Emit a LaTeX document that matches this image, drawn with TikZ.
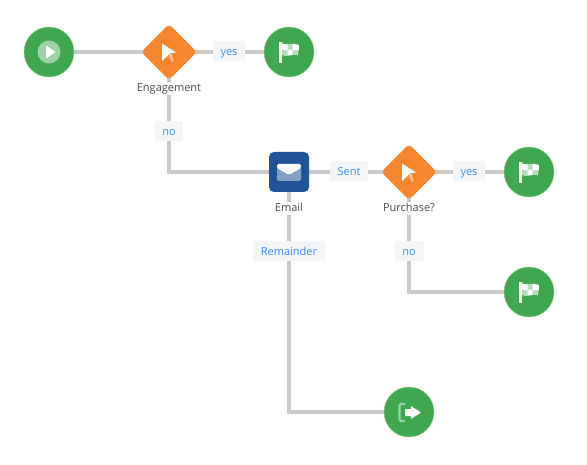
\documentclass[tikz,border=0pt]{standalone}
\usepackage{fontspec}
\setmainfont{Open Sans}
\usetikzlibrary{shapes.geometric}
\pgfdeclarelayer{bg}
\pgfsetlayers{bg,main}
\definecolor{gr}{HTML}{3FA84F}
\definecolor{grl}{HTML}{B5E0BB}
\definecolor{orn}{HTML}{F6852B}
\definecolor{blu}{HTML}{1F5296}
\definecolor{lnk}{HTML}{3B8BF0}
\definecolor{lab}{HTML}{F3F5F7}
\definecolor{edgegray}{HTML}{C9C9C9}
\tikzset{
 x=1pt,y=-1pt,
 circ/.style={circle,fill=gr,draw=gr!60!white,line width=.5pt,minimum size=50pt,inner sep=0pt},
 dia/.style={diamond,aspect=1,fill=orn,minimum width=56pt,minimum height=56pt,inner sep=0pt,rounded corners=4pt},
 mailbox/.style={rectangle,fill=blu,minimum size=40pt,inner sep=0pt,rounded corners=5pt},
 edgelabel/.style={fill=lab,text=lnk,font=\fontsize{11}{13}\selectfont,minimum height=20pt,inner sep=0pt,anchor=center,text height=9pt,text depth=0pt},
 captext/.style={fill=white,text=black!70,font=\fontsize{11}{13}\selectfont,inner sep=1pt,text height=8pt,text depth=2.5pt},
 conn/.style={draw=edgegray,line width=4pt},
 pics/flagicon/.style={code={
  \fill[grl] (-7,-8.5) .. controls (-3,-6) and (0,-10) .. (10,-7) -- (9,3.5) .. controls (2,1) and (-2,6) .. (-7,3) -- cycle;
  \fill[white] (-10,-9.5) rectangle (-7.2,11.5);
  \fill[white] (-7.2,-8.5) -- (-1.5,-7.5) -- (-1.5,-2) -- (-7.2,-2.5) -- cycle;
  \fill[white] (-1.5,-2) -- (3.5,-2) -- (3.5,3) -- (-1.5,3.5) -- cycle;
  \fill[white] (3.5,-8) -- (10,-7) -- (9.7,-1.5) -- (3.5,-2) -- cycle;
 }},
 pics/cursoricon/.style={code={
  \fill[white,opacity=.45] (-1,2) -- (1.5,-.5) -- (5,9) -- (3,10) -- cycle;
  \fill[white] (-7,-8.5) -- (7,0.5) -- (0.5,1.5) -- (-3.5,6) -- (-7,9) -- cycle;
 }}
}
\begin{document}
\begin{tikzpicture}
\useasboundingbox (0,0) rectangle (587,465);
\node[circ] (start) at (49,52) {};
\node[dia] (eng) at (169,52) {};
\node[circ] (flagA) at (289,52) {};
\node[mailbox] (email) at (289,172) {};
\node[dia] (purch) at (409,172) {};
\node[circ] (flagB) at (529,172) {};
\node[circ] (flagC) at (529,292) {};
\node[circ] (exit) at (409,412) {};
\begin{pgfonlayer}{bg}
\fill[white] (0,0) rectangle (587,465);
\draw[conn] (start.center) -- (eng.center);
\draw[conn] (eng.center) -- (flagA.center);
\draw[conn] (eng.center) |- (email.center);
\draw[conn] (email.center) -- (purch.center);
\draw[conn] (purch.center) -- (flagB.center);
\draw[conn] (purch.center) |- (flagC.center);
\draw[conn] (email.center) |- (exit.center);
\end{pgfonlayer}
% icons
\fill[white,opacity=.5] (start.center) circle (11.5);
\fill[white] (46,45.5) -- (55.5,52) -- (46,58.5) -- cycle;
\pic at (eng.center) {cursoricon};
\pic at (purch.center) {cursoricon};
\pic at (flagA.center) {flagicon};
\pic at (flagB.center) {flagicon};
\pic at (flagC.center) {flagicon};
% mail icon
\fill[white,opacity=.45,rounded corners=2pt] (277,164) rectangle (301,181);
\fill[white,rounded corners=1.5pt] (277,164) -- (301,164) -- (301,168) -- (289,175) -- (277,168) -- cycle;
% exit icon
\draw[white,opacity=.5,line width=2.2pt,rounded corners=1.5pt] (405,404) -- (399.5,404) -- (399.5,421) -- (405,421);
\fill[white,rounded corners=.5pt] (405,409) -- (411,409) -- (411,406) -- (421,412.5) -- (411,419) -- (411,416) -- (405,416) -- cycle;
% captions
\node[captext] (capE) at (169,88.5) {Engagement};
\node[captext] (capM) at (289,208.5) {Email};
\node[captext] (capP) at (409,208.5) {Purchase?};
% edge labels
\node[edgelabel,minimum width=32pt] (l1) at (229,51.5) {yes};
\node[edgelabel,minimum width=28pt] (l2) at (169,131) {no};
\node[edgelabel,minimum width=38pt] (l3) at (349,171.5) {Sent};
\node[edgelabel,minimum width=32pt] (l4) at (469,171.5) {yes};
\node[edgelabel,minimum width=72pt] (l5) at (289,251.5) {Remainder};
\node[edgelabel,minimum width=29pt] (l6) at (409,251.5) {no};
\end{tikzpicture}
\end{document}
